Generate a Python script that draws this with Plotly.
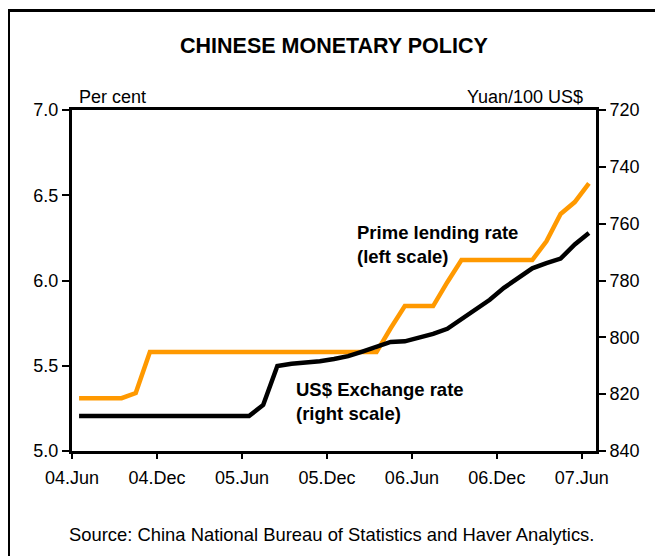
import plotly.graph_objects as go
import pandas as pd

# ---- data ----
months = [p.strftime("%Y-%m") for p in pd.period_range("2004-06", "2007-06", freq="M")]
tick_labels = ["04.Jun", "04.Dec", "05.Jun", "05.Dec", "06.Jun", "06.Dec", "07.Jun"]

prime_lending_rate = [5.31, 5.31, 5.31, 5.31, 5.34, 5.58, 5.58, 5.58, 5.58, 5.58,
                      5.58, 5.58, 5.58, 5.58, 5.58, 5.58, 5.58, 5.58, 5.58, 5.58,
                      5.58, 5.58, 5.72, 5.85, 5.85, 5.85, 5.99, 6.12, 6.12, 6.12,
                      6.12, 6.12, 6.12, 6.23, 6.39, 6.46, 6.57]

exchange_rate = [827.7, 827.7, 827.8, 827.7, 827.7, 827.7, 827.7, 827.7, 827.7, 827.7,
                 827.7, 827.7, 827.7, 823.8, 810.1, 809.3, 808.9, 808.4, 807.6, 806.6,
                 805.0, 803.4, 801.6, 801.4, 800.3, 798.8, 797.0, 793.5, 790.3, 786.8,
                 782.6, 779.1, 775.7, 773.9, 772.3, 767.3, 763.3]

# ---- layout helpers (page coordinates; the page body has an 8px margin) ----
OFF = 8
W, H = 663 - OFF, 556 - OFF
L, R, T, B = 72 - OFF, 596 - OFF, 110 - OFF, 451 - OFF
def px(x):
    return (x - OFF - L) / (R - L)
def py(y):
    return (B - (y - OFF)) / (B - T)

FONT = "Liberation Sans, Arial, sans-serif"
idx = list(range(len(months)))
tickvals = [i - 0.5 for i in range(0, len(months), 6)]

fig = go.Figure()
fig.add_trace(go.Scatter(x=idx, y=prime_lending_rate, mode="lines",
                         line=dict(color="#FF9900", width=4.5), yaxis="y",
                         customdata=months, hoverinfo="skip"))
fig.add_trace(go.Scatter(x=idx, y=exchange_rate, mode="lines",
                         line=dict(color="#000000", width=4.5), yaxis="y2",
                         customdata=months, hoverinfo="skip"))

axis_common = dict(showgrid=False, zeroline=False, showline=True, linecolor="black",
                   linewidth=3, ticks="outside", tickcolor="black", tickwidth=2,
                   tickfont=dict(family=FONT, size=18, color="black"))

fig.update_layout(
    width=W, height=H, autosize=False,
    margin=dict(l=L, r=W - R, t=T, b=H - B, pad=0),
    paper_bgcolor="white", plot_bgcolor="white",
    showlegend=False,
    font=dict(family=FONT, size=18, color="black"),
    xaxis=dict(range=[-0.5, len(months) - 0.5], tickvals=tickvals, ticktext=tick_labels,
               mirror=True, ticklen=5, ticklabelstandoff=3, **axis_common),
    yaxis=dict(range=[5.0, 7.0], dtick=0.5, tickformat=".1f", ticklen=7, **axis_common),
    yaxis2=dict(range=[840, 720], dtick=20, overlaying="y", side="right", ticklen=7,
                **axis_common),
)

ann = dict(showarrow=False, xref="paper", yref="paper")
fig.add_annotation(text="<b>CHINESE MONETARY POLICY</b>", x=px(334), y=py(46),
                   xanchor="center", yanchor="middle", font=dict(size=21.5), **ann)
fig.add_annotation(text="Per cent", x=px(77), y=py(97), xanchor="left", yanchor="middle",
                   font=dict(size=18), **ann)
fig.add_annotation(text="Yuan/100 US$", x=px(585), y=py(97), xanchor="right",
                   yanchor="middle", font=dict(size=18), **ann)
fig.add_annotation(text="<b>Prime lending rate</b>", x=px(355), y=py(232), xanchor="left",
                   yanchor="middle", font=dict(size=18.5), **ann)
fig.add_annotation(text="<b>(left scale)</b>", x=px(355), y=py(257), xanchor="left",
                   yanchor="middle", font=dict(size=18.5), **ann)
fig.add_annotation(text="<b>US$ Exchange rate</b>", x=px(294), y=py(389), xanchor="left",
                   yanchor="middle", font=dict(size=18.5), **ann)
fig.add_annotation(text="<b>(right scale)</b>", x=px(294), y=py(413), xanchor="left",
                   yanchor="middle", font=dict(size=18.5), **ann)
fig.add_annotation(text="Source: China National Bureau of Statistics and Haver Analytics.",
                   x=px(331), y=py(534), xanchor="center", yanchor="middle",
                   font=dict(size=18.4), **ann)

# outer frame
fig.add_shape(type="rect", xref="paper", yref="paper",
              x0=px(8.5), x1=px(720), y0=py(600), y1=py(10.5),
              line=dict(color="black", width=3), fillcolor="rgba(0,0,0,0)")

fig.write_html("out.html")
